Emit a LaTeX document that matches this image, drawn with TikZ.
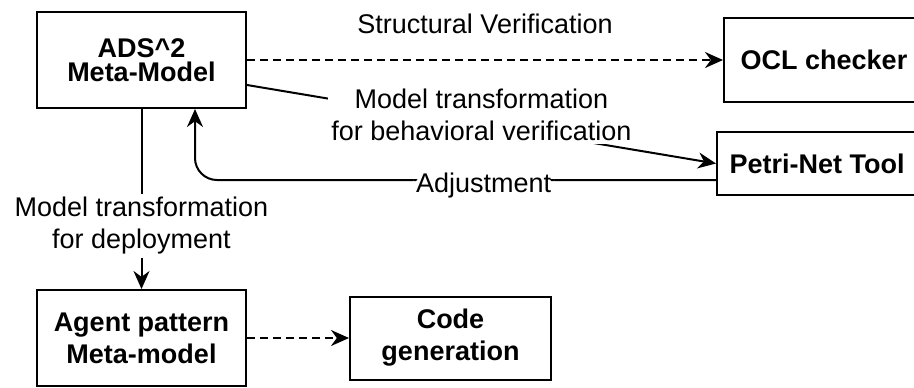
\documentclass[tikz,border=0pt]{standalone}
\usepackage{fontspec}
\setmainfont{Liberation Sans}
\usepackage{tikz}
\usetikzlibrary{arrows.meta,positioning}

\tikzset{
  box/.style={draw, line width=1pt, align=center, inner sep=0pt,
    font=\fontsize{13.5}{16}\selectfont\bfseries},
  lbl/.style={fill=white, align=center, inner sep=1.5pt},
  link/.style={line width=1pt, -{Stealth[length=9pt,width=8pt]}},
  dlink/.style={link, dash pattern=on 4pt off 2.5pt}
}

\begin{document}
\begin{tikzpicture}[x=0.5pt,y=-0.5pt,font=\fontsize{13.5}{16}\selectfont]
\useasboundingbox (0,0) rectangle (914,387);

% models on the left
\node [box, minimum width=104.5pt, minimum height=48pt] (ads) at (141.5,60)
  {ADS\textasciicircum 2\\[-4pt]Meta-Model};
\node [box, minimum width=104.5pt, minimum height=48pt] (agent) at (141.5,338)
  {Agent pattern\\Meta-model};
\node [box, minimum width=100.5pt, minimum height=41.5pt, right=51pt of agent] (code)
  {Code\\generation};

% tools on the right
\node [box, minimum width=100pt, minimum height=42pt, anchor=west] (ocl) at (723,60)
  {OCL checker};
\node [box, minimum width=100pt, minimum height=31.5pt, anchor=west] (petri) at (716,163.5)
  {Petri-Net Tool};

\draw [dlink] (ads.east) -- (ocl.west)
  node [midway, yshift=18pt] {Structural Verification};
\draw [link] ([yshift=-12.5pt]ads.east) -- (petri.west)
  node [lbl, midway, yshift=4.5pt] {Model transformation\\for behavioral verification};
\draw [link, rounded corners=11pt] ([yshift=-8.25pt]petri.west) -| ([xshift=26.75pt]ads.south)
  node [lbl, pos=0.223, yshift=-3pt] {Adjustment};
\draw [link] (ads.south) -- (agent.north)
  node [lbl, midway, yshift=-13.5pt] {Model transformation\\for deployment};
\draw [dlink] (agent.east) -- (code.west);

\end{tikzpicture}
\end{document}
